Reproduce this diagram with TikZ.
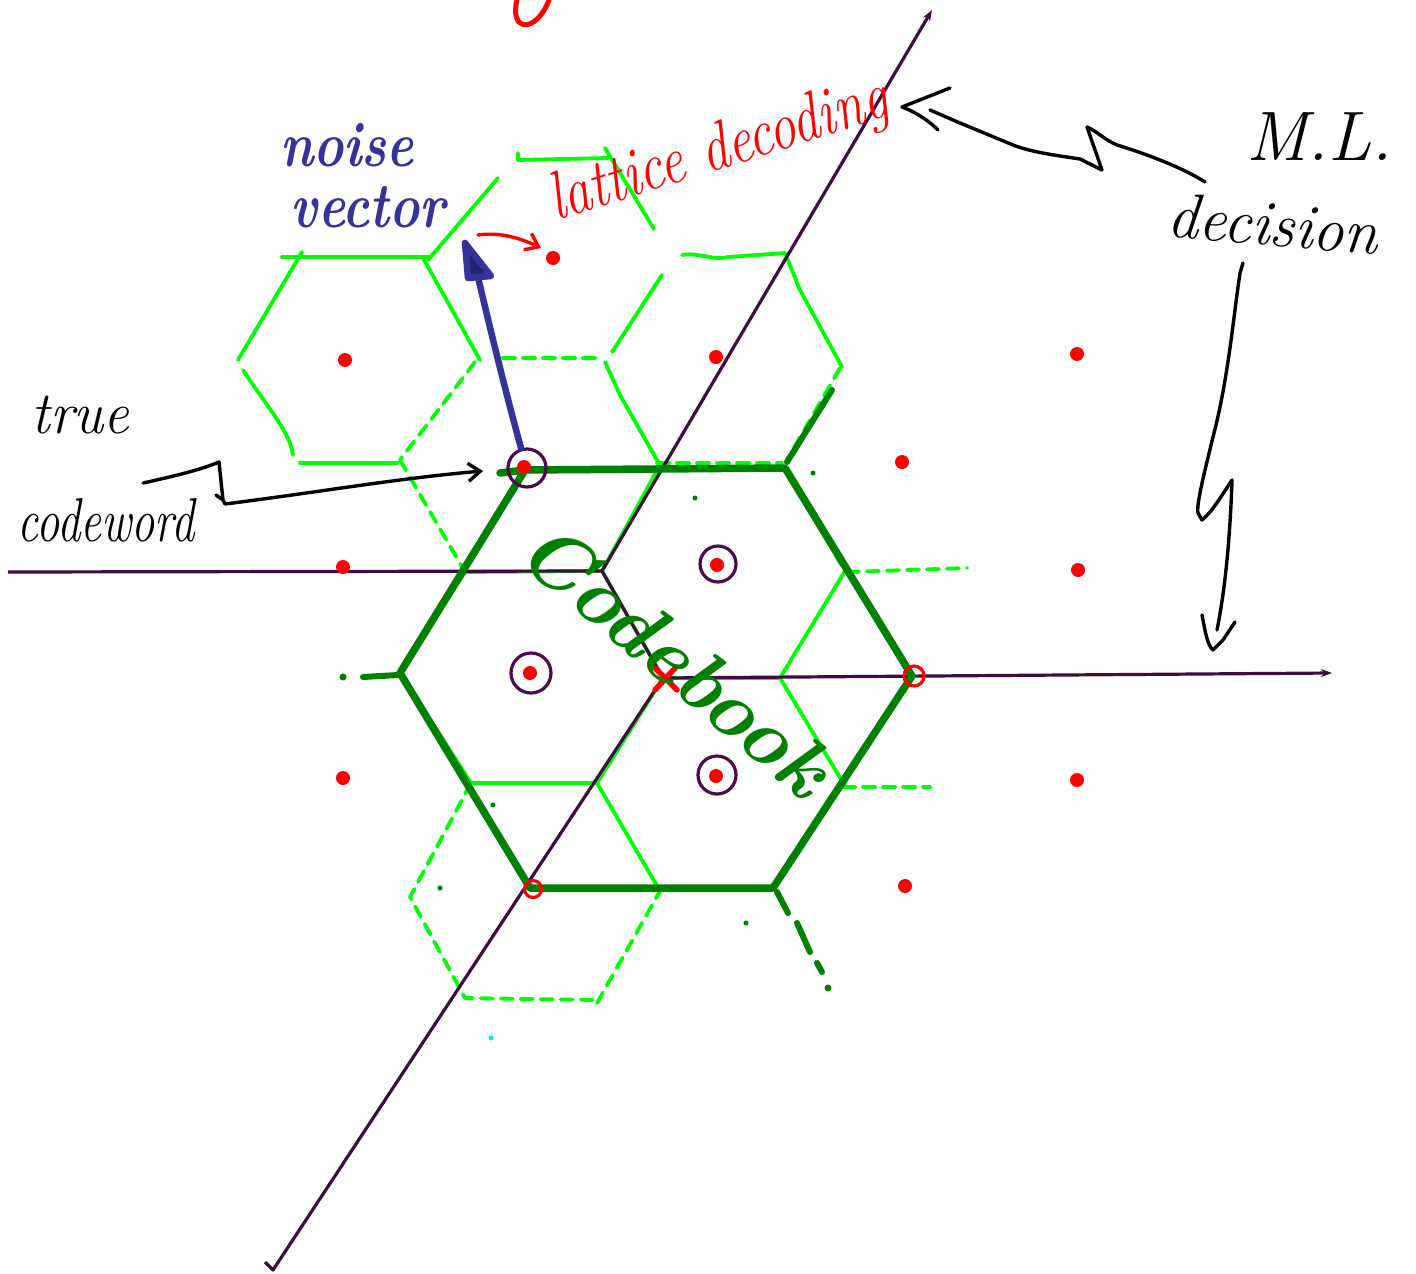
\documentclass[tikz,border=0pt]{standalone}
\usetikzlibrary{arrows.meta}
\definecolor{lgreen}{RGB}{0,255,0}
\definecolor{dgreen}{RGB}{0,128,0}
\definecolor{axpurple}{RGB}{62,12,62}
\definecolor{ringpurple}{RGB}{75,12,75}
\definecolor{nblue}{RGB}{51,51,153}
\definecolor{straycyan}{RGB}{0,230,255}
\begin{document}
\begin{tikzpicture}[x=1pt,y=-1pt,
  fine/.style={draw=lgreen,line width=3.8pt,line cap=round,line join=round},
  finedash/.style={fine,dash pattern=on 12pt off 8pt},
  coarse/.style={draw=dgreen,line width=7.5pt,line cap=round,line join=round},
  coarsedash/.style={draw=dgreen,line width=6pt,line cap=round},
  axisline/.style={draw=axpurple,line width=3.2pt,line join=round},
  latpt/.style={circle,fill=red,inner sep=0pt,minimum width=12pt,minimum height=14pt},
  ring/.style={circle,draw=ringpurple,line width=3.2pt,inner sep=0pt,minimum size=38pt},
  redring/.style={circle,draw=red,line width=3.2pt,inner sep=0pt},
  ink/.style={line width=3.4pt,line cap=round,line join=round},
  stray/.style={circle,inner sep=0pt,minimum size=5pt},
  axtip/.style={-{Stealth[length=11pt,width=8pt]}},
  barb/.style={-{Straight Barb[length=12pt,width=18pt,line width=3.4pt]}},
]
\useasboundingbox (0,0) rectangle (1416,1274);
\fill[white] (0,0) rectangle (1416,1274);

% ---------- key coordinates ----------
\coordinate (O) at (663,678);
\coordinate (c1) at (400,673);
\coordinate (c2) at (525,470);
\coordinate (c3) at (785,468);
\coordinate (c4) at (912,676);
\coordinate (c5) at (773,888);
\coordinate (c6) at (530,888);
\coordinate (v1) at (465,572);
\coordinate (v2) at (602,571);
\coordinate (v3) at (660,465);
\coordinate (v5) at (780,678);
\coordinate (v6) at (845,571);
\coordinate (v7) at (845,786);
\coordinate (v8) at (597,783);
\coordinate (v9) at (471,783);
\coordinate (v10) at (660,891);

% ---------- fine Voronoi cells (light green) ----------
% cell around (345,360)
\draw[fine] (282,257) -- (428,257);
\draw[fine] (302,252) -- (238,360);
\draw[fine] (243,370) .. controls (268,408) and (290,432) .. (293,455);
\draw[fine] (300,463) -- (397,463);
\draw[fine] (423,258) -- (480,360);
\draw[finedash] (475,362) -- (400,460);
% cell around (553,258)
\draw[fine] (428,260) -- (498,178);
\draw[fine] (518,153) -- (518,160) -- (608,158);
\draw[fine] (605,148) -- (654,229);
\draw[fine] (662,275) -- (612,352);
\draw[finedash] (503,358) -- (600,358);
% cell around (716,357)
\draw[fine] (682,255) .. controls (700,252) and (712,261) .. (728,257) -- (785,253);
\draw[fine] (785,253) -- (800,290) -- (842,367);
\draw[finedash] (840,368) -- (787,460);
\draw[finedash] (657,463) -- (782,463);
\draw[fine] (605,362) -- (620,395) -- (658,462);
% cell around true codeword
\draw[finedash] (400,460) -- (v1);
% cells inside the codebook hexagon
\draw[fine] (v9) -- (c1) -- (v1) -- (v2) -- (v3);
\draw[fine] (v2) -- (O) -- (v5) -- (v6);
\draw[finedash] (c3) -- (v6);
\draw[fine] (v5) -- (v7);
\draw[fine] (O) -- (v8) -- (v9);
\draw[fine] (v8) -- (v10);
% cell around (533,887)
\draw[finedash] (v9) -- (410,897) -- (465,998) -- (597,1000);
\draw[finedash] (597,1003) -- (v10);
% cell around (910,675)
\draw[finedash] (847,572) -- (967,568);
\draw[finedash] (843,787) -- (930,787);

% ---------- axes ----------
\draw[axisline] (8,572) -- (v2);
\draw[axisline,axtip] (265,1262) -- (273,1270) -- (O) -- (v2) -- (932,10);
\draw[axisline,axtip] (O) -- (1332,673);

% ---------- codebook hexagon (dark green) ----------
\draw[coarse] (c1) -- (c2) -- (c3) -- (c4) -- (c5) -- (c6) -- cycle;
\draw[coarse] (500,473) -- (c2);
\draw[coarsedash] (363,677) -- (398,675);
\fill[dgreen] (343,677) circle (3.5);
\draw[coarsedash] (787,462) -- (832,390);
\draw[coarsedash] (777,892) -- (788,913) (797,923) -- (810,952) (817,963) -- (822,972);
\fill[dgreen] (828,988) circle (3.5);
% stray dots
\node[stray,fill=dgreen] (s1) at (695,498) {};
\node[stray,fill=dgreen] (s2) at (813,473) {};
\node[stray,fill=dgreen] (s3) at (493,805) {};
\node[stray,fill=dgreen] (s4) at (440,888) {};
\node[stray,fill=dgreen] (s5) at (746,923) {};
\node[stray,fill=straycyan] (s6) at (491,1038) {};

% ---------- lattice points ----------
\node[latpt] (p1) at (345,360) {};
\node[latpt] (p2) at (553,258) {};
\node[latpt] (p3) at (716,357) {};
\node[latpt] (p4) at (1077,354) {};
\node[latpt] (p5) at (524,467) {};
\node[latpt] (p6) at (902,462) {};
\node[latpt] (p7) at (343,567) {};
\node[latpt] (p8) at (717,565) {};
\node[latpt] (p9) at (1078,570) {};
\node[latpt] (p10) at (530,673) {};
\node[latpt] (p12) at (343,778) {};
\node[latpt] (p13) at (716,776) {};
\node[latpt] (p14) at (1077,780) {};
\node[latpt] (p16) at (905,886) {};
\node[redring,minimum size=20pt] (p11) at (914,676) {};
\node[redring,minimum size=17pt] (p15) at (533,889) {};
\draw[red,line width=5.5pt,line cap=round] (655,668) -- (677,690) (655,690) -- (676,667);

% rings round the codewords
\node[ring] (r1) at (527,468) {};
\node[ring,minimum size=36pt] (r2) at (718,564) {};
\node[ring,minimum size=40pt] (r3) at (531,673) {};
\node[ring] (r4) at (717,775) {};

% ---------- texts ----------
\node[text=nblue,anchor=base,font={\fontsize{64}{64}\selectfont\bfseries\itshape}] (tnoise) at (347,166) {\scalebox{0.8}[1]{noise}};
\node[text=nblue,anchor=base,font={\fontsize{64}{64}\selectfont\bfseries\itshape}] (tvector) at (368,227) {\scalebox{0.8}[1]{vector}};
\node[text=red,rotate=17.5,anchor=base,font={\fontsize{68}{68}\selectfont\itshape}] (tlat) at (724,168) {\scalebox{0.8}[1]{lattice decoding}};
\node[anchor=base west,font={\fontsize{60}{60}\selectfont\itshape}] (ttrue) at (28,433) {\scalebox{0.95}[1]{true}};
\node[anchor=base west,font={\fontsize{62}{62}\selectfont\itshape}] (tcw) at (14,541) {\scalebox{0.75}[1]{codeword}};
\node[anchor=base west,font={\fontsize{70}{70}\selectfont\itshape}] (tml) at (1243,160) {M.L.};
\node[rotate=-5,anchor=base west,font={\fontsize{64}{64}\selectfont\itshape}] (tdec) at (1163,236) {\scalebox{0.97}[1]{decision}};
\node[text=dgreen,rotate=-40,font={\fontsize{82}{82}\selectfont\bfseries\itshape}] (tcode) at (676,658) {Codebook};

% partial red stroke at the top edge
\draw[red,line width=5pt,line cap=round] (517,0) .. controls (509,32) and (536,34) .. (549,0);

% ---------- arrows ----------
% noise vector
\coordinate (nvtail) at (521,448);
\coordinate (nvend) at (478,277);
\coordinate (nvtip) at (465,243);
\draw[nblue,line width=6.5pt,line cap=round] (nvtail) .. controls (505,390) and (488,320) .. (nvend);
\draw[nblue,line width=6.5pt,line join=round,fill=nblue!70!black] (nvtip) -- (491,276) -- (468,278) -- cycle;
% red arrow to the decoded lattice point
\coordinate (rs) at (478,235);
\coordinate (re) at (541,248);
\draw[red,ink,barb] (rs) .. controls (500,232) and (520,238) .. (re);
% true codeword arrow
\coordinate (tc0) at (143,483);
\coordinate (tc1) at (219,462);
\coordinate (tc2) at (225,504);
\coordinate (tcend) at (483,471);
\draw[black,ink,barb] (tc0) .. controls (175,476) and (200,470) .. (tc1) -- (223,500) -- (216,495) (223,500) -- (tc2) .. controls (320,492) and (400,478) .. (tcend);
% M.L. decision -> lattice decoding
\coordinate (ml0) at (1205,182);
\coordinate (mltip) at (902,107);
\draw[black,ink] (ml0) .. controls (1180,166) and (1140,152) .. (1117,145) .. controls (1105,140) and (1095,130) .. (1087,127) -- (1102,170) -- (1080,159) .. controls (1060,156) and (1030,152) .. (1013,145) -- (960,123) -- (930,110);
\draw[black,ink] (950,88) -- (mltip) .. controls (918,113) and (930,122) .. (938,130);
% M.L. decision -> down
\coordinate (dd0) at (1243,263);
\coordinate (ddtip) at (1213,650);
\draw[black,ink] (dd0) -- (1240,273) .. controls (1233,320) and (1228,380) .. (1213,437) .. controls (1205,470) and (1196,505) .. (1198,513) -- (1202,520) .. controls (1212,512) and (1222,495) .. (1232,480) .. controls (1230,540) and (1225,590) .. (1217,630);
\draw[black,ink] (1202,615) .. controls (1205,630) and (1207,645) .. (ddtip) -- (1223,640) -- (1235,622);
\end{tikzpicture}
\end{document}
